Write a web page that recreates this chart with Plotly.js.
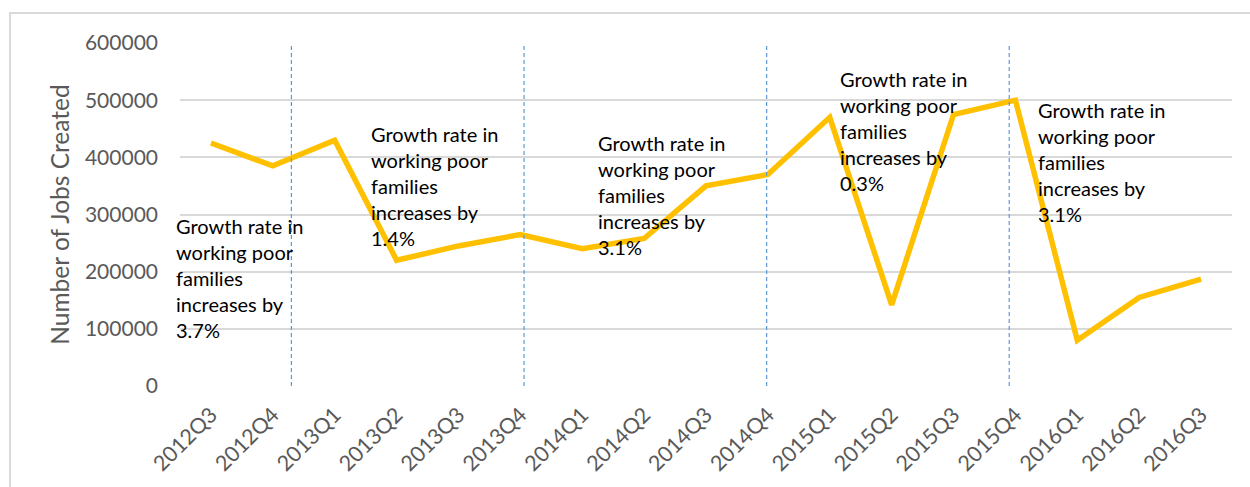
<!DOCTYPE html>
<html>
<head>
<meta charset="utf-8">
<script src="https://cdn.plot.ly/plotly-3.0.1.min.js"></script>
<style>
  html, body { margin: 0; padding: 0; background: #fff; }
  #chart { width: 1250px; height: 487px; }
</style>
</head>
<body>
<div id="chart"></div>
<script>
// ---- data ----
const quarters = ["2012Q3","2012Q4","2013Q1","2013Q2","2013Q3","2013Q4","2014Q1","2014Q2","2014Q3","2014Q4","2015Q1","2015Q2","2015Q3","2015Q4","2016Q1","2016Q2","2016Q3"];
const jobsCreated = [425000,385000,430000,220000,245000,265000,240000,258000,350000,370000,470000,142000,475000,500000,80000,155000,187000];
const yTicks = [0,100000,200000,300000,400000,500000,600000];
const dividerPositions = [1.3, 5.06, 8.98, 12.9];
const growthRates = ["3.7%","1.4%","3.1%","0.3%","3.1%"];
const noteAnchorsX = [-0.5, 2.55, 6.22, 10.13, 13.34];
const noteAnchorsY = [304000, 465000, 449000, 562000, 507000];

const FONT = "Lato, 'Open Sans', sans-serif";

const trace = {
  x: quarters,
  y: jobsCreated,
  type: "scatter",
  mode: "lines",
  line: { color: "#FFC000", width: 5.5 },
  hoverinfo: "x+y"
};

const shapes = dividerPositions.map(p => ({
  type: "line", xref: "x", yref: "y",
  x0: p, x1: p, y0: 0, y1: 607000,
  line: { color: "#5B9BD5", width: 1.2, dash: "4px,3px" }
}));
// chart frame
shapes.push({
  type: "rect", xref: "paper", yref: "paper",
  x0: -0.1616, x1: 1.2, y0: -0.6, y1: 1.0875,
  line: { color: "#D9D9D9", width: 2 }, layer: "below"
});

const annotations = growthRates.map((g, i) => ({
  x: noteAnchorsX[i], y: noteAnchorsY[i], xref: "x", yref: "y",
  xshift: i === 0 ? -6 : 0,
  xanchor: "left", yanchor: "top", align: "left", showarrow: false,
  text: "Growth rate in<br>working poor<br>families<br>increases by<br>" + g,
  font: { family: FONT, size: 20, color: "#000000" }
}));

const layout = {
  width: 1250, height: 487,
  margin: { l: 180, r: 18, t: 43, b: 101 },
  paper_bgcolor: "#ffffff", plot_bgcolor: "#ffffff",
  showlegend: false,
  font: { family: FONT, color: "#595959" },
  xaxis: {
    type: "category",
    range: [-0.5, 16.5],
    tickangle: -45,
    tickfont: { family: FONT, size: 21.5, color: "#595959" },
    ticklabelstandoff: 11,
    showgrid: false, zeroline: false, showline: false, ticks: "",
    fixedrange: true
  },
  yaxis: {
    range: [0, 600000],
    tickvals: yTicks,
    ticktext: yTicks.map(String),
    tickfont: { family: FONT, size: 21, color: "#595959" },
    ticklabelstandoff: 21,
    showgrid: true, gridcolor: "#D9D9D9", gridwidth: 2,
    zeroline: false, showline: false, ticks: "",
    title: { text: "Number of Jobs Created", font: { family: FONT, size: 24.5, color: "#595959" }, standoff: 8 },
    fixedrange: true
  },
  shapes: shapes,
  annotations: annotations
};

Plotly.newPlot("chart", [trace], layout, { displayModeBar: false, staticPlot: true });
</script>
</body>
</html>
